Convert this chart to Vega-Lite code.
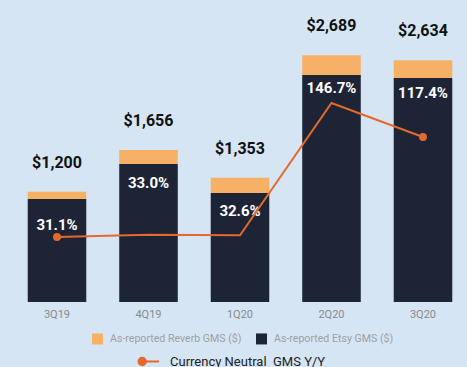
{
  "$schema": "https://vega.github.io/schema/vega-lite/v6.json",
  "width": 452,
  "height": 302,
  "autosize": {"type": "none"},
  "padding": {"left": 14, "top": 0, "right": 1, "bottom": 65},
  "background": "#d6e5f4",
  "config": {"view": {"stroke": null}, "font": "Roboto"},
  "data": {
    "values": [
      {"quarter": "3Q19", "etsy": 1122, "total": 1200, "yoy": 0.311},
      {"quarter": "4Q19", "etsy": 1503, "total": 1656, "yoy": 0.330},
      {"quarter": "1Q20", "etsy": 1187, "total": 1353, "yoy": 0.326},
      {"quarter": "2Q20", "etsy": 2473, "total": 2689, "yoy": 1.467},
      {"quarter": "3Q20", "etsy": 2440, "total": 2634, "yoy": 1.174}
    ]
  },
  "encoding": {
    "x": {
      "field": "quarter",
      "type": "nominal",
      "sort": null,
      "scale": {"paddingInner": 0.36, "paddingOuter": 0.15},
      "axis": {
        "title": null,
        "domain": false,
        "ticks": false,
        "labelAngle": 0,
        "labelColor": "#8a8a8a",
        "labelFontSize": 11,
        "labelPadding": 6
      }
    }
  },
  "layer": [
    {
      "layer": [
        {
          "mark": {"type": "bar"},
          "encoding": {
            "y": {"field": "etsy", "type": "quantitative", "scale": {"domain": [0, 3290], "nice": false, "zero": false}, "axis": null},
            "color": {
              "datum": "As-reported Etsy GMS ($)",
              "type": "nominal",
              "scale": {
                "domain": ["As-reported Reverb GMS ($)", "As-reported Etsy GMS ($)"],
                "range": ["#f6b166", "#1c2435"]
              },
              "legend": {
                "title": null,
                "orient": "none",
                "direction": "horizontal",
                "legendX": 78,
                "legendY": 333,
                "symbolType": "square",
                "symbolSize": 121,
                "symbolStrokeWidth": 0,
                "symbolOpacity": 1,
                "labelColor": "#a0a0a0",
                "labelFontSize": 10.6,
                "labelOffset": 7,
                "columnPadding": 14
              }
            }
          }
        },
        {
          "mark": {"type": "bar"},
          "encoding": {
            "y": {"field": "etsy", "type": "quantitative"},
            "y2": {"field": "total"},
            "color": {"datum": "As-reported Reverb GMS ($)", "type": "nominal"}
          }
        },
        {
          "mark": {"type": "text", "baseline": "middle", "dy": -29, "fontSize": 16, "fontWeight": "bold", "color": "#111111"},
          "encoding": {
            "y": {"field": "total", "type": "quantitative"},
            "text": {"field": "total", "type": "quantitative", "format": "$,.0f"}
          }
        },
        {
          "mark": {"type": "text", "baseline": "middle", "dy": 33, "fontSize": 15, "fontWeight": "bold", "color": "#ffffff"},
          "encoding": {
            "y": {"field": "total", "type": "quantitative"},
            "text": {"field": "yoy", "type": "quantitative", "format": ".1%"}
          }
        }
      ]
    },
    {
      "layer": [
        {
          "mark": {"type": "line", "strokeWidth": 2},
          "encoding": {
            "y": {"field": "yoy", "type": "quantitative", "scale": {"domain": [-0.25, 2.356], "nice": false, "zero": false}, "axis": null},
            "stroke": {
              "datum": "Currency Neutral\u00a0\u00a0GMS Y/Y",
              "type": "nominal",
              "scale": {"range": ["#e5692b"]},
              "legend": {
                "title": null,
                "orient": "none",
                "legendX": 123,
                "legendY": 350,
                "symbolType": "M -0.95 0 A 0.35 0.35 0 1 0 -0.25 0 A 0.35 0.35 0 1 0 -0.95 0 Z M -0.6 0 L 1 0",
                "symbolSize": 441,
                "symbolFillColor": "#e5692b",
                "symbolStrokeColor": "#e5692b",
                "symbolStrokeWidth": 2,
                "labelColor": "#222222",
                "labelFontSize": 13,
                "labelOffset": 10
              }
            }
          }
        },
        {
          "transform": [{"filter": "datum.quarter == '3Q19' || datum.quarter == '3Q20'"}],
          "mark": {"type": "point", "filled": true, "size": 64, "opacity": 1, "color": "#e5692b"},
          "encoding": {
            "y": {"field": "yoy", "type": "quantitative"}
          }
        }
      ]
    }
  ],
  "resolve": {"scale": {"y": "independent"}}
}
